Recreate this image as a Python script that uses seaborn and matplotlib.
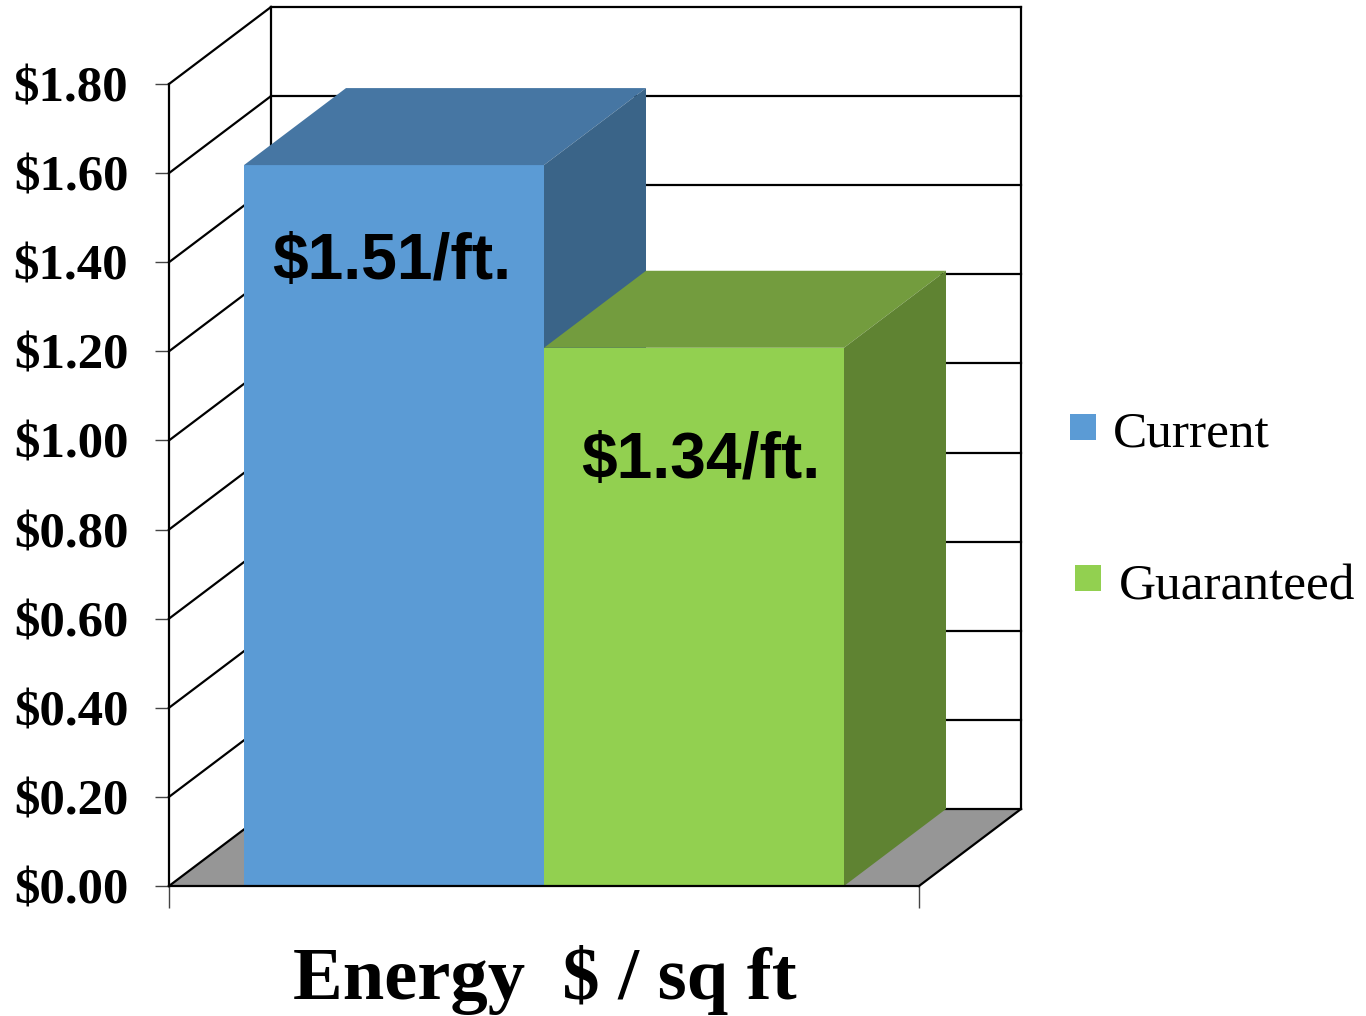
import matplotlib
matplotlib.use('Agg')
import matplotlib.pyplot as plt
from matplotlib.patches import Rectangle
import pandas as pd
import seaborn as sns

# values (bar heights do not agree with the printed labels)
CATEGORIES = ["Current", "Guaranteed"]
BAR_VALUES = [1.618, 1.208]
BAR_LABELS = ["$1.51/ft.", "$1.34/ft."]
TICK_VALUES = [0.0, 0.2, 0.4, 0.6, 0.8, 1.0, 1.2, 1.4, 1.6, 1.8]
XLABEL = "Energy  $ / sq ft"

FRONT_COLORS = ["#5B9BD5", "#92D050"]
TOP_COLORS = ["#4676A3", "#739C3E"]
SIDE_COLORS = ["#3A6488", "#5F8332"]
FLOOR_COLOR = "#969696"

W, H = 1366, 1016
LEFT, RIGHT, TOP, BOTTOM = 169, 919, 84, 886  # front plane, in pixels
PX_PER_CAT = 300
PX_PER_VAL = (BOTTOM - TOP) / 1.8
DEPTH_X = 102 / PX_PER_CAT
DEPTH_Y = 77 / PX_PER_VAL
LW = 1.6

# where the value labels sit relative to the bar centre / bar top, in pixels
LABEL_OFFSETS = [(-2.5, 97), (7, 113.5)]

sns.set_style("white")
plt.rcParams['font.family'] = ['Liberation Serif', 'DejaVu Sans']
plt.rcParams['text.color'] = 'black'

fig = plt.figure(figsize=(W / 100, H / 100), dpi=100)
ax = fig.add_axes([LEFT / W, 1 - BOTTOM / H, (RIGHT - LEFT) / W, (BOTTOM - TOP) / H])

df = pd.DataFrame({"cat": CATEGORIES, "value": BAR_VALUES})
sns.barplot(data=df, x="cat", y="value", hue="cat", palette=FRONT_COLORS, width=1.0,
            saturation=1, legend=False, ax=ax, linewidth=0, zorder=5)
bars = list(ax.patches)[:len(CATEGORIES)]

ax.set_xlim(-0.75, 1.75)
ax.set_ylim(0, TICK_VALUES[-1])

x0, x1 = ax.get_xlim()
y_max = TICK_VALUES[-1]

# floor
ax.fill([x0, x1, x1 + DEPTH_X, x0 + DEPTH_X], [0, 0, DEPTH_Y, DEPTH_Y],
        color=FLOOR_COLOR, lw=0, zorder=1, clip_on=False)

# back wall and left wall grid
line_style = dict(color="black", lw=LW, clip_on=False, zorder=2, solid_capstyle="projecting")
for t in TICK_VALUES:
    ax.plot([x0, x0 + DEPTH_X], [t, t + DEPTH_Y], **line_style)
    ax.plot([x0 + DEPTH_X, x1 + DEPTH_X], [t + DEPTH_Y, t + DEPTH_Y], **line_style)
ax.plot([x0 + DEPTH_X] * 2, [DEPTH_Y, y_max + DEPTH_Y], **line_style)
ax.plot([x1 + DEPTH_X] * 2, [DEPTH_Y, y_max + DEPTH_Y], **line_style)
ax.plot([x1, x1 + DEPTH_X], [0, DEPTH_Y], **line_style)

# the 3d faces of each bar, taken from the bars seaborn drew
for i, bar in enumerate(bars):
    bx0, bx1 = bar.get_x(), bar.get_x() + bar.get_width()
    h = bar.get_height()
    z = 5 + i  # green sits in front of the blue side
    bar.set_zorder(z)
    ax.fill([bx0, bx1, bx1 + DEPTH_X, bx0 + DEPTH_X], [h, h, h + DEPTH_Y, h + DEPTH_Y],
            color=TOP_COLORS[i], lw=0, zorder=z, clip_on=False)
    ax.fill([bx1, bx1 + DEPTH_X, bx1 + DEPTH_X, bx1], [0, DEPTH_Y, h + DEPTH_Y, h],
            color=SIDE_COLORS[i], lw=0, zorder=z, clip_on=False)
    off_x, off_y = LABEL_OFFSETS[i]
    ax.text((bx0 + bx1) / 2 + off_x / PX_PER_CAT, h - off_y / PX_PER_VAL, BAR_LABELS[i],
            ha="center", va="center", fontsize=46.3, fontweight="bold",
            family=["Liberation Sans"], color="black", zorder=10)

sns.despine(ax=ax, top=True, right=True, left=False, bottom=False)
for side in ["left", "bottom"]:
    ax.spines[side].set_linewidth(LW)
    ax.spines[side].set_color("black")
    ax.spines[side].set_zorder(8)

ax.set_yticks(TICK_VALUES)
ax.set_yticklabels([f"${t:.2f}" for t in TICK_VALUES], fontsize=36.6, fontweight="bold", color="black")
ax.tick_params(axis="y", left=True, length=10, width=1, color="#444444", pad=19.3)
ax.set_xticks([x0, x1])
ax.set_xticklabels(["", ""])
ax.tick_params(axis="x", bottom=True, length=16, width=1, color="#444444")
ax.set_xlabel("")
ax.set_ylabel("")

fig.text(544.5 / W, 1 - 980 / H, XLABEL, ha="center", va="center", fontsize=53.7, fontweight="bold")

# legend entries do not line up in the original
legend_pos = [(1070, 414, 1113, 434), (1075, 565, 1119, 587)]
for name, color, (mx, my, tx, ty) in zip(CATEGORIES, FRONT_COLORS, legend_pos):
    fig.add_artist(Rectangle((mx / W, 1 - (my + 25.5) / H), 26 / W, 25.5 / H,
                             transform=fig.transFigure, color=color, lw=0))
    fig.text(tx / W, 1 - ty / H, name, ha="left", va="center", fontsize=37)

fig.savefig("out.png", dpi=100)
